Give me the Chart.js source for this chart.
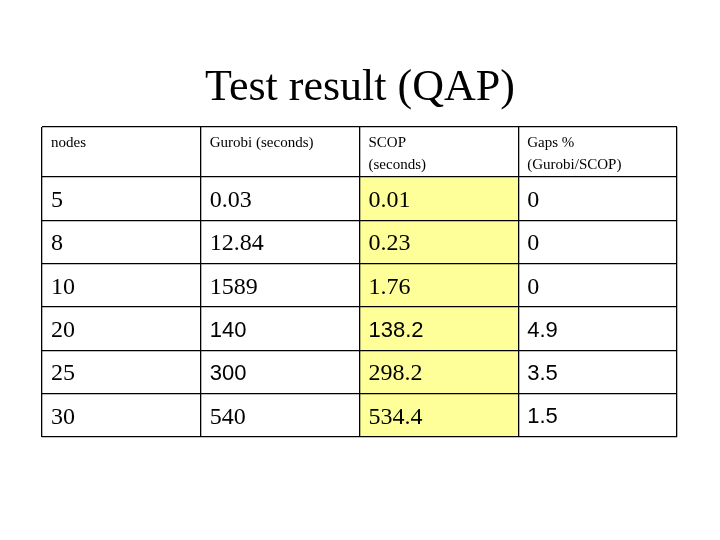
<!DOCTYPE html>
<html>
<head>
<meta charset="utf-8">
<script src="https://cdn.jsdelivr.net/npm/chart.js@4"></script>
<style>
  body { margin: 0; background: #fff; }
  #wrap { width: 720px; height: 540px; }
</style>
</head>
<body>
<div id="wrap"><canvas id="tbl"></canvas></div>
<script>
const title = "Test result (QAP)";
const headers = [["nodes"], ["Gurobi (seconds)"], ["SCOP", "(seconds)"], ["Gaps %", "(Gurobi/SCOP)"]];
const nodes = ["5", "8", "10", "20", "25", "30"];
const gurobi = ["0.03", "12.84", "1589", "140", "300", "540"];
const scop = ["0.01", "0.23", "1.76", "138.2", "298.2", "534.4"];
const gaps = ["0", "0", "0", "4.9", "3.5", "1.5"];
// cells printed in a sans face in the original
const sansCells = [[3, 1], [3, 2], [3, 3], [4, 1], [4, 3], [5, 3]];

const headerH = 1.155;
const rowCenters = nodes.map((_, i) => headerH + i + 0.5);
const rowLines = [0, headerH, ...nodes.map((_, i) => headerH + i + 1)];
const columns = [nodes, gurobi, scop, gaps];

const tablePlugin = {
  id: "tableText",
  afterDraw(chart) {
    const { ctx } = chart;
    const x = chart.scales.x, y = chart.scales.y;
    ctx.save();
    ctx.fillStyle = "#000";
    ctx.textAlign = "center";
    ctx.textBaseline = "alphabetic";
    ctx.font = "44px 'Liberation Serif'";
    ctx.fillText(title, 360, 100);
    ctx.textAlign = "left";
    ctx.textBaseline = "top";
    ctx.font = "15px 'Liberation Serif'";
    headers.forEach((lines, c) => {
      lines.forEach((t, k) => ctx.fillText(t, x.getPixelForValue(c) + 9, y.getPixelForValue(0) + 9 + k * 22));
    });
    ctx.textBaseline = "middle";
    columns.forEach((col, c) => {
      col.forEach((t, r) => {
        const sans = sansCells.some(([rr, cc]) => rr === r && cc === c);
        ctx.font = sans ? "22px 'Liberation Sans'" : "24px 'Liberation Serif'";
        ctx.fillText(t, x.getPixelForValue(c) + 9, y.getPixelForValue(rowCenters[r]) + 2);
      });
    });
    ctx.restore();
  },
};

new Chart(document.getElementById("tbl"), {
  type: "bar",
  data: {
    datasets: [{
      data: rowCenters.map((yc) => ({ x: [2, 3], y: yc })),
      backgroundColor: "#ffff99",
      borderWidth: 0,
      barPercentage: 1,
      categoryPercentage: 1,
    }],
  },
  options: {
    indexAxis: "y",
    responsive: true,
    maintainAspectRatio: false,
    animation: false,
    layout: { padding: { left: 42, right: 43, top: 127, bottom: 103 } },
    plugins: { legend: { display: false }, tooltip: { enabled: false } },
    scales: {
      x: {
        type: "linear", min: 0, max: 4, offset: false,
        ticks: { display: false, stepSize: 1 },
        grid: { color: "#000", lineWidth: 1.3, drawTicks: false, z: 1, offset: false },
        border: { display: false },
      },
      y: {
        type: "linear", min: 0, max: rowLines[rowLines.length - 1], reverse: true, offset: false,
        afterBuildTicks: (s) => { s.ticks = rowLines.map((v) => ({ value: v })); },
        ticks: { display: false },
        grid: { color: "#000", lineWidth: 1.3, drawTicks: false, z: 1, offset: false },
        border: { display: false },
      },
    },
  },
  plugins: [tablePlugin],
});
</script>
</body>
</html>
